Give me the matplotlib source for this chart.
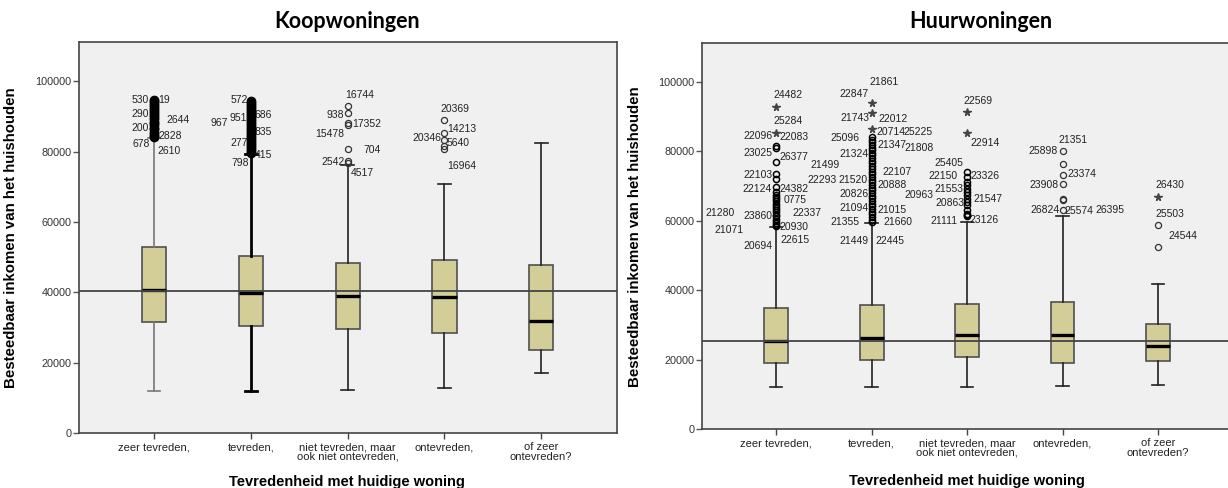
import matplotlib.pyplot as plt

plt.rcParams['font.family'] = ['Liberation Sans', 'DejaVu Sans']

categories = ['zeer tevreden,', 'tevreden,', 'niet tevreden, maar\nook niet ontevreden,',
              'ontevreden,', 'of zeer\nontevreden?']

# --- Koopwoningen ---
koop_q1 = [31600, 30500, 29600, 28500, 23600]
koop_med = [40700, 39700, 39000, 38800, 31900]
koop_q3 = [52800, 50400, 48300, 49300, 47800]
koop_lo = [12100, 12100, 12200, 13000, 17000]
koop_hi = [83700, 79400, 76100, 70900, 82300]
koop_ref = 40450
koop_circles = [
    [84000, 84400, 85100, 85600, 86300, 86800, 87400, 88000, 88500, 89200,
     89700, 90300, 90900, 91400, 92000, 92600, 93100, 93700, 94200, 94500],
    [79500, 80100, 80600, 81300, 81800, 82400, 83000, 83500, 84100, 84700,
     85200, 85900, 86400, 87000, 87600, 88100, 88700, 89300, 89800, 90400,
     91000, 91500, 92100, 92700, 93200, 93800, 94300],
    [92860, 90960, 88000, 87600, 80570, 77200, 76800],
    [88880, 85280, 83400, 81510, 80750],
    [],
]
koop_stars = [[], [], [], [], []]
koop_labels = [
    (0, '530', 94530), (0, '19', 94530), (0, '290', 90590), (0, '2644', 89080),
    (0, '200', 86700), (0, '2828', 84430), (0, '678', 82070), (0, '2610', 80170),
    (1, '572', 94530), (1, '686', 90500), (1, '951', 89650), (1, '967', 88120),
    (1, '835', 85560), (1, '277', 82440), (1, '415', 78950), (1, '798', 76600),
    (2, '16744', 96060), (2, '938', 90300), (2, '17352', 87750), (2, '15478', 84910),
    (2, '704', 80370), (2, '2542', 76970), (2, '4517', 73930),
    (3, '20369', 92200), (3, '14213', 86250), (3, '20346', 83860), (3, '5640', 82440),
    (3, '16964', 75920),
]

# --- Huurwoningen ---
huur_q1 = [19030, 19980, 20850, 18950, 19520]
huur_med = [25350, 26210, 27160, 27070, 23920]
huur_q3 = [34920, 35770, 36170, 36550, 30150]
huur_lo = [12140, 12140, 12230, 12340, 12630]
huur_hi = [58200, 59300, 59500, 61240, 41920]
huur_ref = 25440
huur_circles = [
    [81420, 81000, 76830, 73500, 72060, 69650, 68200, 67500, 66900, 66200,
     65600, 64900, 64300, 63600, 63000, 62400, 61700, 61200, 60500, 60000,
     59400, 58800, 58400],
    [84000, 83300, 82600, 81700, 81000, 80300, 79500, 78800, 78000, 77200,
     76500, 75600, 74900, 74100, 73400, 72600, 71800, 71100, 70300, 69500,
     68800, 68000, 67200, 66500, 65700, 64900, 64200, 63400, 62600, 61900,
     61100, 60300, 59600],
    [73960, 72520, 71080, 70140, 69190, 68210, 67260, 66310, 65340, 64390,
     63160, 62010, 61500, 61240],
    [79900, 76370, 73010, 70630, 66120, 65830, 63160],
    [58660, 52430],
]
huur_stars = [[92820, 85150], [93770, 90900, 86420], [91190, 85150], [], [66780]]
huur_labels = [
    (0, '24482', 96180), (0, '25284', 88600), (0, '22096', 84210), (0, '22083', 84010),
    (0, '23025', 79410), (0, '26377', 78260), (0, '22103', 73010), (0, '22124', 68990),
    (0, '24382', 68990), (0, '0775', 65830), (0, '21280', 62300), (0, '23860', 61240),
    (0, '22337', 62300), (0, '21071', 57220), (0, '20930', 58170), (0, '20694', 52630),
    (0, '22615', 54350),
    (1, '21861', 99800), (1, '22847', 96470), (1, '21743', 89580), (1, '22012', 89290),
    (1, '20714', 85440), (1, '25225', 85440), (1, '25096', 83720), (1, '21347', 81820),
    (1, '21808', 80960), (1, '21324', 79240), (1, '21499', 75880), (1, '22107', 73960),
    (1, '22293', 71780), (1, '21520', 71780), (1, '20888', 70340), (1, '20826', 67760),
    (1, '21094', 63620), (1, '21015', 63160), (1, '21355', 59600), (1, '21660', 59600),
    (1, '21449', 54150), (1, '22445', 54150),
    (2, '22569', 94540), (2, '22914', 82280), (2, '25405', 76650), (2, '22150', 72810),
    (2, '23326', 72810), (2, '21553', 68990), (2, '20963', 67470), (2, '21547', 66320),
    (2, '20863', 65170), (2, '21111', 59800), (2, '23126', 60300),
    (3, '21351', 83260), (3, '25898', 79900), (3, '23374', 73500), (3, '23908', 70340),
    (3, '26824', 63160), (3, '25574', 62670), (3, '26395', 63160),
    (4, '26430', 70140), (4, '25503', 62010), (4, '24544', 55500),
]

# label placement (pixel offset from box centre, alignment)
koop_offsets = [
    (-5, 'right'), (4, 'left'), (-5, 'right'), (12, 'left'),
    (-5, 'right'), (4, 'left'), (-4, 'right'), (3, 'left'),
    (-3, 'right'), (4, 'left'), (-4, 'right'), (-23, 'right'),
    (4, 'left'), (-3, 'right'), (4, 'left'), (-2, 'right'),
    (-3, 'left'), (-4, 'right'), (4, 'left'), (-4, 'right'),
    (16, 'left'), (-3, 'right'), (3, 'left'),
    (-4, 'left'), (3, 'left'), (-3, 'right'), (2, 'left'),
    (3, 'left'),
]
huur_offsets = [
    (-3, 'left'), (-3, 'left'), (-4, 'right'), (3, 'left'),
    (-4, 'right'), (3, 'left'), (-4, 'right'), (-4, 'right'),
    (3, 'left'), (7, 'left'), (-41, 'right'), (-4, 'right'),
    (16, 'left'), (-33, 'right'), (3, 'left'), (-4, 'right'),
    (4, 'left'),
    (-2, 'left'), (-3, 'right'), (-2, 'right'), (7, 'left'),
    (5, 'left'), (32, 'left'), (-12, 'right'), (6, 'left'),
    (33, 'left'), (-3, 'right'), (-32, 'right'), (11, 'left'),
    (-35, 'right'), (-4, 'right'), (6, 'left'), (-3, 'right'),
    (-3, 'right'), (6, 'left'), (-12, 'right'), (12, 'left'),
    (-3, 'right'), (4, 'left'),
    (-4, 'left'), (3, 'left'), (-4, 'right'), (-9, 'right'),
    (3, 'left'), (-4, 'right'), (-34, 'right'), (6, 'left'),
    (-3, 'right'), (-9, 'right'), (2, 'left'),
    (-4, 'left'), (-5, 'right'), (5, 'left'), (-4, 'right'),
    (-3, 'right'), (2, 'left'), (33, 'left'),
    (-3, 'left'), (-3, 'left'), (10, 'left'),
]

BOX = '#D3CE97'
pos = [1, 2, 3, 4, 5]

fig = plt.figure(figsize=(12.28, 4.88), dpi=100)
ax_koop = fig.add_axes([0.0641, 0.1121, 0.4381, 0.8012])
ax_huur = fig.add_axes([0.5714, 0.1203, 0.4322, 0.7910])


def draw_panel(ax, q1, med, q3, lo, hi, ref, circles, stars, labels, offsets, dense):
    stats = [dict(q1=a, med=m, q3=b, whislo=l, whishi=h, fliers=[])
             for a, m, b, l, h in zip(q1, med, q3, lo, hi)]
    ax.set_facecolor('#F0F0F0')
    art = ax.bxp(stats, positions=pos, widths=0.25, capwidths=0.13, patch_artist=True,
                 showfliers=False,
                 boxprops=dict(facecolor=BOX, edgecolor='#505050', linewidth=1.2),
                 medianprops=dict(color='black', linewidth=2.4),
                 whiskerprops=dict(color='#222222', linewidth=1.2),
                 capprops=dict(color='#222222', linewidth=1.2))
    if dense:
        for ln in art['whiskers'][0:2] + art['caps'][0:2]:
            ln.set_color('#777777')
        for ln in art['whiskers'][2:4] + art['caps'][2:4]:
            ln.set_linewidth(2.0)
            ln.set_color('black')
    ax.axhline(ref, color='#444444', linewidth=1.3, zorder=2.5)

    for i, vals in enumerate(circles):
        if not vals:
            continue
        thick = dense and i < 2
        many = len(vals) > 10
        ax.plot([pos[i]] * len(vals), vals, linestyle='none', marker='o',
                markersize=5 if thick else 4.4, markerfacecolor='none',
                markeredgecolor='black' if (thick or many) else '#333333',
                markeredgewidth=2.0 if thick else (1.1 if many else 0.9), zorder=4)
    for i, vals in enumerate(stars):
        if vals:
            ax.plot([pos[i]] * len(vals), vals, linestyle='none', marker='*',
                    markersize=5.5, color='#444444', zorder=4)

    for (cat, txt, val), (dx, ha) in zip(labels, offsets):
        ax.annotate(txt, xy=(pos[cat], val), xytext=(dx, 0), textcoords='offset pixels',
                    ha=ha, va='center', fontsize=7.5, color='#222222', zorder=3)

    ax.set_xlim(0.22, 5.78)
    ax.set_ylim(0, 111000)
    ax.set_yticks([0, 20000, 40000, 60000, 80000, 100000])
    ax.set_yticklabels(['0', '20000', '40000', '60000', '80000', '100000'])
    ax.set_xticks(pos)
    ax.set_xticklabels(categories, linespacing=0.95)
    ax.tick_params(axis='y', length=4, width=1, color='#555555', labelsize=7.8,
                   labelcolor='#333333', pad=1)
    ax.tick_params(axis='x', length=4.5, width=1, color='#444444', labelsize=8,
                   labelcolor='#222222', pad=2)
    for sp in ax.spines.values():
        sp.set_color('#444444')
        sp.set_linewidth(1.2)
    ax.set_ylabel('Besteedbaar inkomen van het huishouden', fontsize=10.8,
                  fontweight='bold')
    ax.set_xlabel('Tevredenheid met huidige woning', fontsize=10.5, fontweight='bold')


draw_panel(ax_koop, koop_q1, koop_med, koop_q3, koop_lo, koop_hi, koop_ref,
           koop_circles, koop_stars, koop_labels, koop_offsets, True)
draw_panel(ax_huur, huur_q1, huur_med, huur_q3, huur_lo, huur_hi, huur_ref,
           huur_circles, huur_stars, huur_labels, huur_offsets, False)

ax_koop.yaxis.set_label_coords(-0.112, 0.5)
ax_huur.yaxis.set_label_coords(-0.113, 0.5)
ax_koop.xaxis.set_label_coords(0.498, -0.107)
ax_huur.xaxis.set_label_coords(0.499, -0.116)

fig.text(0.283, 0.9555, 'Koopwoningen', ha='center', va='center', fontsize=15.5,
         fontweight='bold', family=['Lato', 'DejaVu Sans'])
fig.text(0.7986, 0.9555, 'Huurwoningen', ha='center', va='center', fontsize=15.5,
         fontweight='bold', family=['Lato', 'DejaVu Sans'])

fig.savefig('out.png', dpi=100)
